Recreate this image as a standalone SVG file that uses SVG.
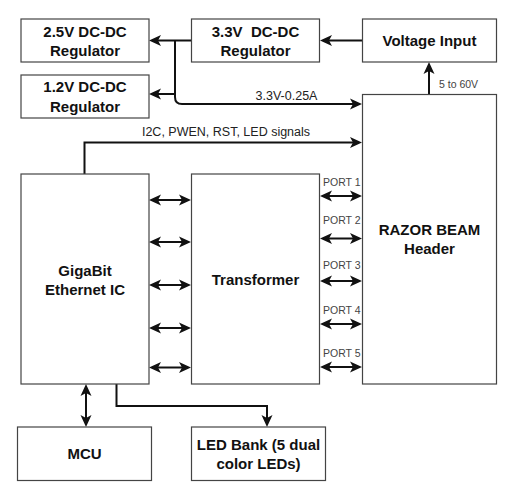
<svg xmlns="http://www.w3.org/2000/svg" width="512" height="502" viewBox="0 0 512 502">
<style>
.box{fill:#fff;stroke:#444;stroke-width:1.2}
.t{font-family:"Liberation Sans",Arial,sans-serif;font-weight:bold;font-size:15px;fill:#111;text-anchor:middle}
.l{font-family:"Liberation Sans",Arial,sans-serif;font-size:12.5px;fill:#222}
.p{font-family:"Liberation Sans",Arial,sans-serif;font-size:10.5px;fill:#444}
.c{fill:none;stroke:#111;stroke-width:2}
</style>
<defs>
<marker id="a" markerUnits="userSpaceOnUse" markerWidth="12" markerHeight="12" viewBox="0 0 12 12" refX="9" refY="6" orient="auto-start-reverse">
<path d="M0,0.5 L12,6 L0,11.5 L3,6 z" fill="#111"/>
</marker>
</defs>
<rect width="512" height="502" fill="#fff"/>
<g id="connectors">
<path class="c" d="M362,40.5 H323" marker-end="url(#a)"/>
<path class="c" d="M191,40.5 H152" marker-end="url(#a)"/>
<path class="c" d="M175,40.5 V94 H152" marker-end="url(#a)"/>
<path class="c" d="M175,94 V97 Q175,104 182,104 H359" marker-end="url(#a)"/>
<path class="c" d="M429,94 V65" marker-end="url(#a)"/>
<path class="c" d="M84.5,174 V142.5 H359" marker-end="url(#a)"/>
<path class="c" d="M152,200 H188" marker-start="url(#a)" marker-end="url(#a)"/>
<path class="c" d="M152,242 H188" marker-start="url(#a)" marker-end="url(#a)"/>
<path class="c" d="M152,285 H188" marker-start="url(#a)" marker-end="url(#a)"/>
<path class="c" d="M152,328 H188" marker-start="url(#a)" marker-end="url(#a)"/>
<path class="c" d="M152,367.5 H188" marker-start="url(#a)" marker-end="url(#a)"/>
<path class="c" d="M323,196 H359" marker-start="url(#a)" marker-end="url(#a)"/>
<path class="c" d="M323,238.5 H359" marker-start="url(#a)" marker-end="url(#a)"/>
<path class="c" d="M323,281 H359" marker-start="url(#a)" marker-end="url(#a)"/>
<path class="c" d="M323,324 H359" marker-start="url(#a)" marker-end="url(#a)"/>
<path class="c" d="M323,367 H359" marker-start="url(#a)" marker-end="url(#a)"/>
<path class="c" d="M86,387 V424" marker-start="url(#a)" marker-end="url(#a)"/>
<path class="c" d="M116.5,384 V406 H267 V424" marker-end="url(#a)"/>
<text class="l" x="286.5" y="100" text-anchor="middle">3.3V-0.25A</text>
<text class="l" x="226" y="135.5" text-anchor="middle">I2C, PWEN, RST, LED signals</text>
<text class="p" x="439" y="87.5">5 to 60V</text>
<text class="p" x="323" y="185.5">PORT 1</text>
<text class="p" x="323" y="224">PORT 2</text>
<text class="p" x="323" y="269">PORT 3</text>
<text class="p" x="323" y="314">PORT 4</text>
<text class="p" x="323" y="356.5">PORT 5</text>
</g>
<g id="reg25"><rect class="box" x="21" y="19" width="128" height="43"/><text class="t" x="85" y="36.5">2.5V DC-DC</text><text class="t" x="85" y="56">Regulator</text></g>
<g id="reg33"><rect class="box" x="191.5" y="19" width="128" height="43"/><text class="t" x="255.5" y="36.5" xml:space="preserve">3.3V  DC-DC</text><text class="t" x="255.5" y="56">Regulator</text></g>
<g id="vin"><rect class="box" x="362.5" y="19" width="134" height="43"/><text class="t" x="429.5" y="46">Voltage Input</text></g>
<g id="reg12"><rect class="box" x="21" y="75" width="128" height="43"/><text class="t" x="85" y="92">1.2V DC-DC</text><text class="t" x="85" y="111.5">Regulator</text></g>
<g id="razor"><rect class="box" x="362.5" y="94.5" width="134" height="289.5"/><text class="t" x="429.5" y="234.5">RAZOR BEAM</text><text class="t" x="429.5" y="254">Header</text></g>
<g id="eth"><rect class="box" x="21" y="174" width="128" height="210"/><text class="t" x="85" y="275.5">GigaBit</text><text class="t" x="85" y="294.5">Ethernet IC</text></g>
<g id="xfmr"><rect class="box" x="191.5" y="174" width="128" height="210"/><text class="t" x="255.5" y="285">Transformer</text></g>
<g id="mcu"><rect class="box" x="17.5" y="427" width="134" height="53.5"/><text class="t" x="84.5" y="459">MCU</text></g>
<g id="led"><rect class="box" x="191.5" y="427" width="134" height="53.5"/><text class="t" x="258.5" y="449.5">LED Bank (5 dual</text><text class="t" x="258.5" y="469">color LEDs)</text></g>
</svg>
